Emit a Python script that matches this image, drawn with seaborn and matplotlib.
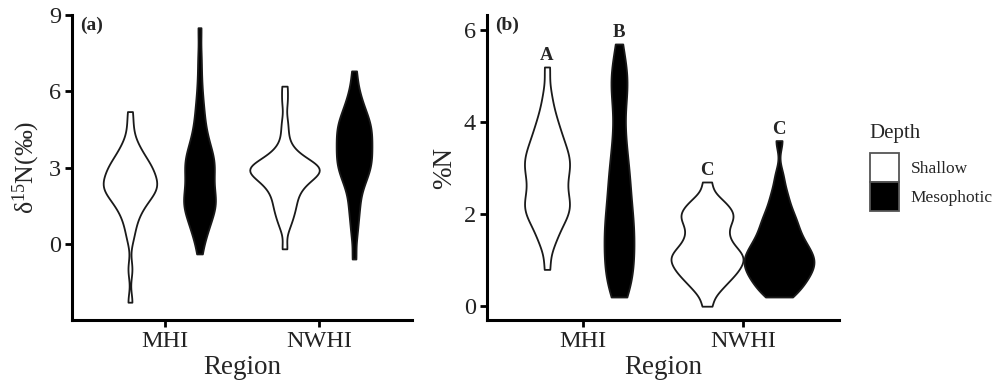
import numpy as np
import pandas as pd
import seaborn as sns
import matplotlib.pyplot as plt

regions = ["MHI", "NWHI"]
depths = ["Shallow", "Mesophotic"]

# panel (a): d15N values
d15n_mhi_shallow = [-2.3, -1.0, 0.2, 0.6, 0.9, 1.1, 1.3, 1.45, 1.55, 1.65, 1.75, 1.85, 1.95, 2.0,
                    2.05, 2.1, 2.2, 2.25, 2.3, 2.35, 2.4, 2.45, 2.55, 2.6, 2.7, 2.75, 2.85, 2.9,
                    2.95, 3.05, 3.15, 3.2, 3.3, 3.4, 3.55, 3.7, 3.85, 4.1, 4.6, 5.2]
d15n_mhi_meso = [-0.4, 0.2, 0.4, 0.6, 0.8, 0.95, 1.1, 1.25, 1.35, 1.45, 1.55, 1.6, 1.7, 1.8,
                 1.9, 2.0, 2.15, 2.3, 2.45, 2.55, 2.7, 2.85, 2.95, 3.05, 3.15, 3.25, 3.35, 3.45,
                 3.6, 3.75, 3.9, 4.1, 4.3, 4.6, 4.9, 5.3, 5.7, 6.4, 7.3, 8.5]
d15n_nwhi_shallow = [-0.2, 0.6, 0.9, 1.1, 1.3, 1.45, 1.6, 1.75, 1.9, 2.05, 2.15, 2.25, 2.35, 2.45,
                     2.5, 2.6, 2.65, 2.7, 2.75, 2.8, 2.85, 2.9, 2.95, 2.95, 3.0, 3.0, 3.05, 3.1,
                     3.15, 3.2, 3.3, 3.4, 3.5, 3.65, 3.85, 4.3, 4.8, 5.6, 6.2]
d15n_nwhi_meso = [-0.6, 0.3, 0.8, 1.2, 1.5, 1.8, 2.1, 2.3, 2.45, 2.6, 2.75, 2.85, 2.95, 3.05,
                  3.15, 3.25, 3.35, 3.45, 3.55, 3.65, 3.75, 3.85, 3.95, 4.05, 4.15, 4.25, 4.35,
                  4.45, 4.55, 4.65, 4.75, 4.85, 4.95, 5.1, 5.25, 5.4, 5.6, 5.85, 6.2, 6.8]

# panel (b): %N
pn_mhi_shallow = [0.8, 1.3, 1.45, 1.6, 1.72, 1.82, 1.9, 1.97, 2.03, 2.09, 2.15, 2.2, 2.26, 2.32,
                  2.39, 2.46, 2.54, 2.62, 2.7, 2.78, 2.85, 2.92, 2.98, 3.04, 3.1, 3.16, 3.22,
                  3.28, 3.35, 3.42, 3.5, 3.58, 3.67, 3.77, 3.88, 4.0, 4.15, 4.35, 4.65, 5.2]
pn_mhi_meso = [0.2, 0.3, 0.4, 0.5, 0.65, 0.75, 0.85, 0.95, 1.05, 1.15, 1.25, 1.35, 1.45, 1.55,
               1.65, 1.75, 1.85, 1.95, 2.05, 2.15, 2.3, 2.45, 2.55, 2.7, 2.85, 2.95, 3.1, 3.3,
               3.5, 3.7, 3.95, 4.3, 4.5, 4.7, 4.85, 5.0, 5.15, 5.35, 5.7]
pn_nwhi_shallow = [0.0, 0.3, 0.4, 0.5, 0.58, 0.65, 0.7, 0.75, 0.8, 0.85, 0.9, 0.95, 1.0, 1.03,
                   1.07, 1.1, 1.15, 1.2, 1.25, 1.3, 1.37, 1.45, 1.52, 1.6, 1.68, 1.76, 1.85, 1.9,
                   1.95, 2.0, 2.05, 2.12, 2.2, 2.28, 2.36, 2.7]
pn_nwhi_meso = [0.2, 0.25, 0.32, 0.4, 0.47, 0.53, 0.58, 0.63, 0.68, 0.72, 0.77, 0.82, 0.86, 0.9,
                0.94, 0.98, 1.02, 1.06, 1.1, 1.14, 1.19, 1.24, 1.29, 1.34, 1.39, 1.45, 1.52,
                1.59, 1.66, 1.74, 1.82, 1.9, 1.98, 2.1, 2.22, 2.38, 2.55, 2.85, 3.6]

letters = ["A", "B", "C", "C"]


def long_table(groups):
    rows = []
    for (region, depth), values in groups.items():
        for v in values:
            rows.append({"Region": region, "Depth": depth, "value": v})
    return pd.DataFrame(rows)


df_a = long_table({
    ("MHI", "Shallow"): d15n_mhi_shallow,
    ("MHI", "Mesophotic"): d15n_mhi_meso,
    ("NWHI", "Shallow"): d15n_nwhi_shallow,
    ("NWHI", "Mesophotic"): d15n_nwhi_meso,
})
df_b = long_table({
    ("MHI", "Shallow"): pn_mhi_shallow,
    ("MHI", "Mesophotic"): pn_mhi_meso,
    ("NWHI", "Shallow"): pn_nwhi_shallow,
    ("NWHI", "Mesophotic"): pn_nwhi_meso,
})

sns.set_theme(style="ticks")
plt.rcParams['font.family'] = ['Liberation Serif', 'DejaVu Serif']
plt.rcParams['mathtext.default'] = 'regular'

palette = {"Shallow": "white", "Mesophotic": "black"}
ink = "#1a1a1a"


def draw_panel(ax, df, ylim, yticks, ylabel, ylabel_size, tag, legend=False):
    sns.violinplot(data=df, x="Region", y="value", hue="Depth", order=regions,
                   hue_order=depths, palette=palette, inner=None, cut=0,
                   density_norm="area", common_norm=True, width=0.9, gap=0,
                   linewidth=1.3, linecolor=ink, bw_adjust=0.55, legend=legend, ax=ax)
    ax.set_xlim(-0.6, 1.6)
    ax.set_ylim(*ylim)
    ax.set_yticks(yticks)
    ax.set_xlabel("Region", fontsize=19.5, labelpad=2)
    ax.set_ylabel(ylabel, fontsize=ylabel_size, labelpad=5)
    ax.tick_params(axis="both", labelsize=17.5, length=5, width=2, color="black",
                   labelcolor="#222222", pad=3)
    for side in ["top", "right"]:
        ax.spines[side].set_visible(False)
    for side in ["left", "bottom"]:
        ax.spines[side].set_linewidth(2.2)
        ax.spines[side].set_color("black")
    ax.text(0.024, 0.965, tag, transform=ax.transAxes, fontsize=14, fontweight="bold",
            ha="left", va="center")


fig = plt.figure(figsize=(9.96, 3.83), dpi=100)
ax_a = fig.add_axes([72 / 996, 63 / 383, 340 / 996, 305 / 383])
ax_b = fig.add_axes([487 / 996, 63 / 383, 352 / 996, 305 / 383])

draw_panel(ax_a, df_a, (-3.0, 9.0), [0, 3, 6, 9], r"$\delta^{15}$N(‰)", 18.5, "(a)")
draw_panel(ax_b, df_b, (-0.3, 6.33), [0, 2, 4, 6], "%N", 19.5, "(b)", legend=True)

# significance letters above each violin in panel (b)
groups_b = [pn_mhi_shallow, pn_mhi_meso, pn_nwhi_shallow, pn_nwhi_meso]
offsets = [-0.225, 0.225, 0.775, 1.225]
for xpos, values, letter in zip(offsets, groups_b, letters):
    ax_b.text(xpos, max(values) + 0.24, letter, ha="center", va="center",
              fontsize=13.5, fontweight="bold")

handles, labels = ax_b.get_legend_handles_labels()
ax_b.get_legend().remove()
for h in handles:
    h.set_edgecolor("#555555")
fig.text(869 / 996, 1 - 133 / 383, "Depth", fontsize=15, ha="left", va="center")
fig.legend(handles, labels, loc="upper left",
           bbox_to_anchor=(870 / 996, 1 - 153 / 383), frameon=False, borderpad=0,
           handlelength=1.65, handleheight=2.19, labelspacing=0, fontsize=12.5,
           borderaxespad=0, handletextpad=0.7)

fig.savefig("out.png", dpi=100)
